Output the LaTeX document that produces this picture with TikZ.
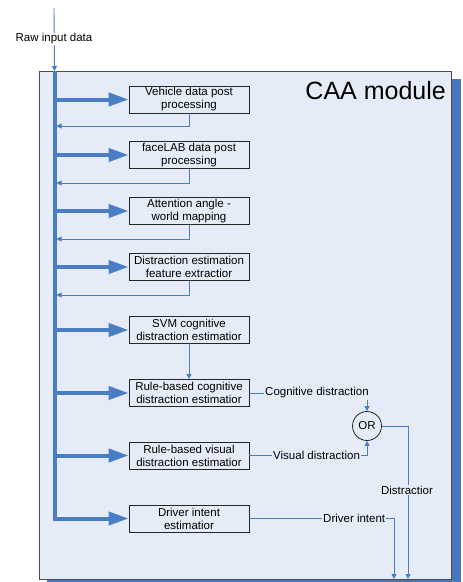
\documentclass[tikz,border=0pt]{standalone}
\usepackage{fontspec}
\setmainfont{Liberation Sans}
\usetikzlibrary{arrows.meta}
\definecolor{lnblue}{HTML}{4A7EC4}
\definecolor{bgblue}{HTML}{E6ECF7}
\definecolor{shblue}{HTML}{4775BE}
\begin{document}
\begin{tikzpicture}[x=1pt,y=-1pt,
  proc/.style={draw=black!85, line width=0.8pt, minimum width=120pt, minimum height=27pt, inner sep=1pt, align=center, font=\fontsize{11.5}{13}\selectfont},
  bus/.style={draw=lnblue, line width=4pt},
  busarr/.style={lnblue, line width=4pt, -{Triangle[length=20pt,width=13pt]}},
  thinln/.style={lnblue, line width=0.9pt},
  thinarr/.style={thinln, -{Triangle[length=5pt,width=5pt]}},
  lbl/.style={font=\fontsize{11.5}{13}\selectfont, fill=bgblue, inner sep=1pt}]
\useasboundingbox (0,0) rectangle (463,582);
% shadow
\fill[shblue] (451,79) rectangle (461,582);
\fill[shblue] (47,579) rectangle (461,582);
\node[draw=black!70, fill=bgblue, line width=0.8pt, minimum width=412pt, minimum height=508pt, inner sep=0pt, outer sep=0pt, anchor=north west] (caa) at (39,71) {};
\node[anchor=base east, font=\fontsize{25}{25}\selectfont, inner sep=0pt] (title) at (446,99) {CAA module};
% input
\coordinate (in) at (54,8);
\coordinate (bustop) at (54.5,71);
\draw[thinarr] (in) -- (bustop);
\node[font=\fontsize{11.5}{13}\selectfont, fill=white, inner sep=1pt] (raw) at (54,39) {Raw input data};
% boxes
\node[proc] (b1) at (189,99.5) {Vehicle data post\\processing};
\node[proc] (b2) at (189,155) {faceLAB data post\\processing};
\node[proc] (b3) at (189,211) {Attention angle -\\world mapping};
\node[proc] (b4) at (189,267) {Distraction estimation\\feature extractior};
\node[proc] (b5) at (189,330) {SVM cognitive\\distraction estimatior};
\node[proc] (b6) at (189,393) {Rule-based cognitive\\distraction estimatior};
\node[proc] (b7) at (189,455.5) {Rule-based visual\\distraction estimatior};
\node[proc] (b8) at (189,518.5) {Driver intent\\estimatior};
% bus
\draw[busarr] (bustop) |- (b8.west);
\foreach \b in {b1,b2,b3,b4,b5,b6,b7}{
  \draw[busarr] (bustop |- \b.west) -- (\b.west);
}
% returns
\foreach \b/\y in {b1/126,b2/183,b3/239,b4/295}{
  \coordinate (r\b) at (56.5,\y);
  \draw[thinarr] (\b.south) |- (r\b);
}
\draw[thinarr] (b5) -- (b6);
% OR
\node[draw=black!85, circle, line width=0.8pt, minimum size=29pt, inner sep=0pt, font=\fontsize{11.5}{13}\selectfont] (or) at (367,426) {OR};
\node[lbl, anchor=west] (cog) at (264,393) {Cognitive distraction};
\draw[thinln] (b6.east) -- (cog.west);
\draw[thinarr] (or |- cog.south) -- (or.north);
\node[lbl, anchor=west] (vis) at (272,455.5) {Visual distraction};
\draw[thinln] (b7.east) -- (vis.west);
\draw[thinarr] (vis.east) -| (or.south);
\coordinate (dout) at (408,579);
\coordinate (iout) at (394,579);
\draw[thinarr] (or.east) -| (dout);
\node[lbl] (dist) at (407,490) {Distractior};
\node[lbl, anchor=west] (drv) at (322,518.5) {Driver intent};
\draw[thinln] (b8.east) -- (drv.west);
\draw[thinarr] (drv.east) -| (iout);
\end{tikzpicture}
\end{document}
